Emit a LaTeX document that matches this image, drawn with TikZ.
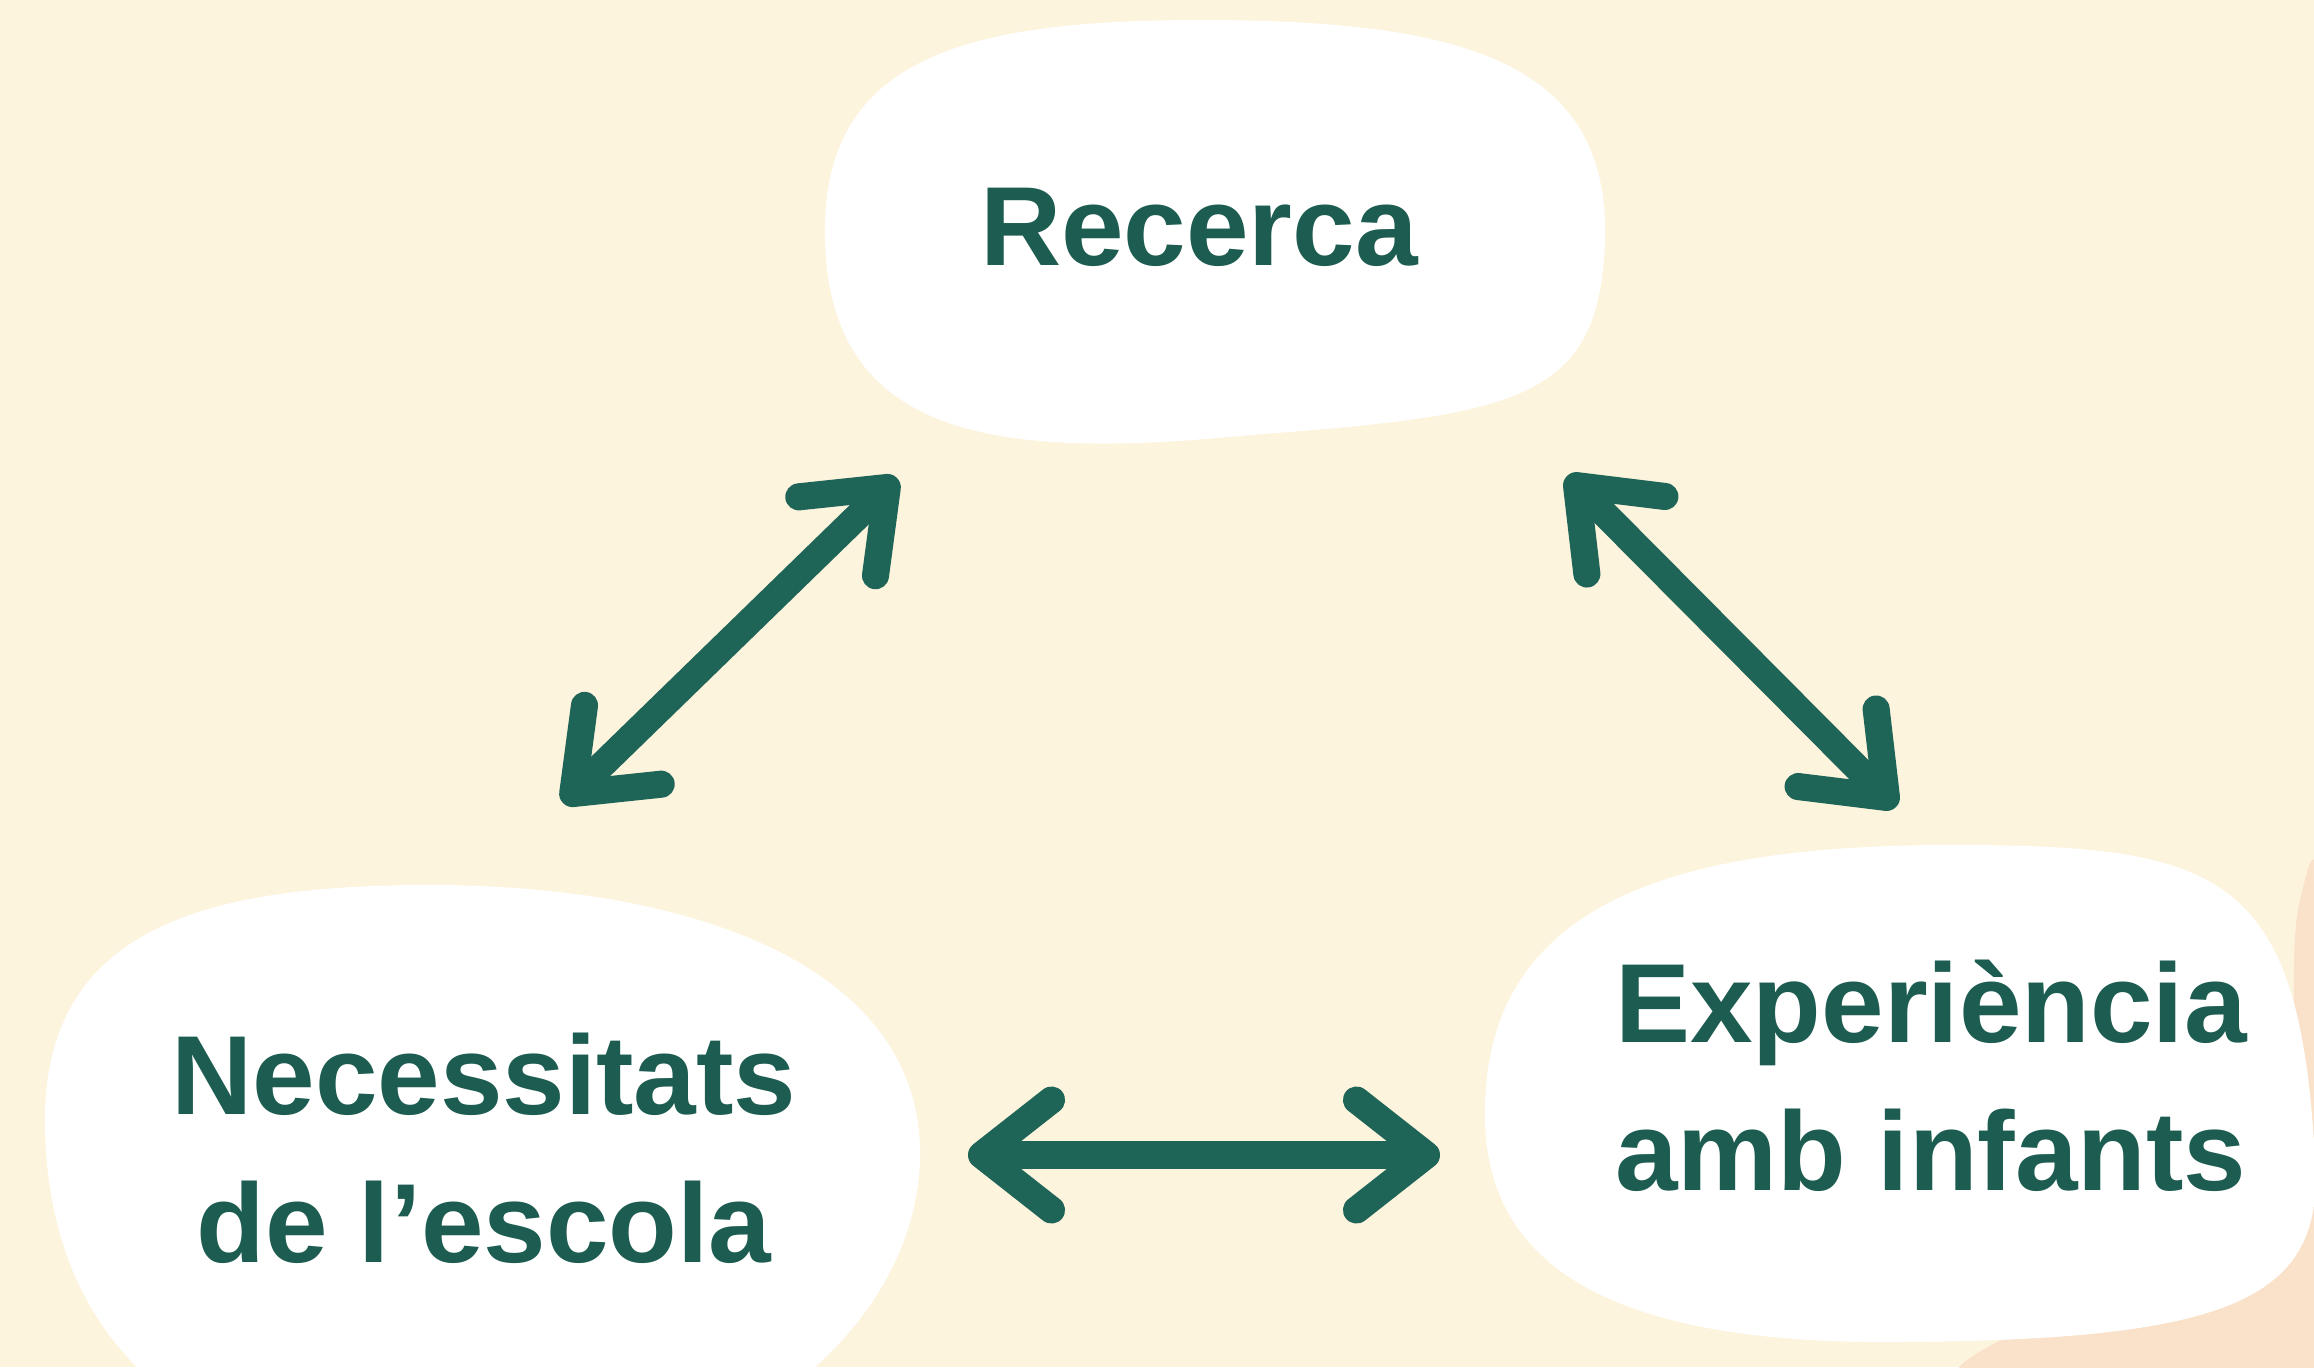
\documentclass[tikz,border=0pt]{standalone}
\usepackage{fontspec}
\setmainfont{Liberation Sans}
\usetikzlibrary{arrows.meta}
\definecolor{cream}{RGB}{253,244,222}
\definecolor{peach}{RGB}{250,225,201}
\definecolor{arrowgreen}{RGB}{30,100,87}
\definecolor{txtgreen}{RGB}{29,92,80}
\tikzset{
  blobtext/.style={text=txtgreen, align=center, inner sep=0pt,
    font=\bfseries\fontsize{32}{42}\selectfont},
  barb/.tip={Straight Barb[length=7mm, width=11mm, round]},
  twoway/.style={draw=arrowgreen, line width=7.7pt, barb-barb}
}

\begin{document}
\begin{tikzpicture}
\fill[cream] (0,0) rectangle (23.14,-13.67);
\useasboundingbox (0,0) rectangle (23.14,-13.67);
\clip (0,0) rectangle (23.14,-13.67);
\fill[peach] plot[smooth cycle, tension=0.75] coordinates {(19.9,-14.0) (20.5,-13.1) (22.6,-12.0) (23.0,-9.0) (23.4,-8.7) (24.5,-9.0) (24.5,-14.5)};
\fill[white] (8.25,-2.4) .. controls (8.2,-0.6) and (9.6,-0.2) .. (12.0,-0.2)
  .. controls (14.6,-0.2) and (16.1,-0.6) .. (16.05,-2.4)
  .. controls (16.0,-4.0) and (15.2,-4.15) .. (12.5,-4.35)
  .. controls (10.0,-4.6) and (8.3,-4.4) .. cycle;
\fill[white] (0.45,-11.3) .. controls (0.4,-9.3) and (2.0,-8.85) .. (4.3,-8.85)
  .. controls (7.0,-8.85) and (9.25,-9.7) .. (9.2,-11.6)
  .. controls (9.15,-13.2) and (7.5,-14.8) .. (4.8,-14.8)
  .. controls (2.0,-14.8) and (0.5,-13.5) .. cycle;
\fill[white] (14.85,-11.05) .. controls (14.9,-9.0) and (16.8,-8.45) .. (19.5,-8.45)
  .. controls (22.2,-8.45) and (23.0,-8.7) .. (23.15,-11.6)
  .. controls (23.25,-13.0) and (22.3,-13.4) .. (19.0,-13.42)
  .. controls (16.0,-13.45) and (14.8,-12.6) .. cycle;

\node[blobtext] (recerca) at (11.99,-2.27) {Recerca};
\node[blobtext] (escola) at (4.84,-11.48) {Necessitats\\de l'escola};
\node[blobtext] (experiencia) at (19.31,-10.76) {Experiència\\amb infants};

\coordinate (recerca-sw) at (8.97,-4.78);
\coordinate (recerca-se) at (15.67,-4.76);
\coordinate (escola-ne) at (5.63,-8.03);
\coordinate (escola-e) at (9.68,-11.55);
\coordinate (experiencia-nw) at (18.96,-8.07);
\coordinate (experiencia-w) at (14.40,-11.55);

\draw[twoway] (escola-ne) -- (recerca-sw);
\draw[twoway] (recerca-se) -- (experiencia-nw);
\draw[twoway] (escola-e) -- (experiencia-w);
\end{tikzpicture}
\end{document}
